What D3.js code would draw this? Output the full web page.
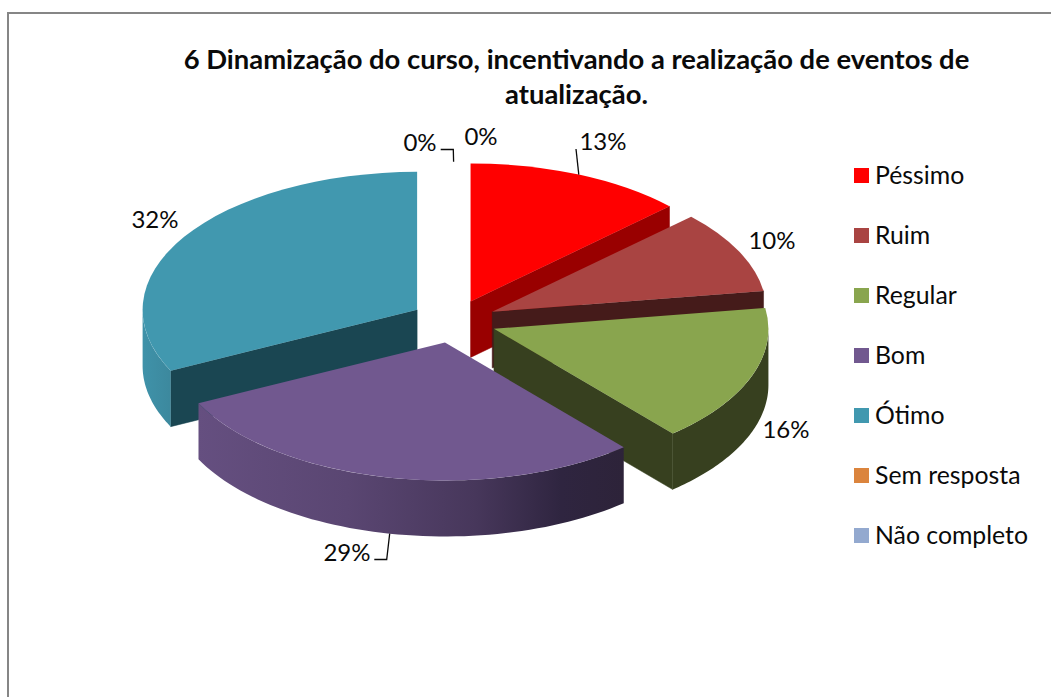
<!DOCTYPE html>
<html><head><meta charset="utf-8">
<script src="https://cdn.jsdelivr.net/npm/d3@7"></script>
<style>html,body{margin:0;padding:0;background:#fff}svg{display:block}text{font-family:Lato,"Open Sans",sans-serif;fill:#0a0a0a}</style>
</head><body><div id="c"></div>
<script>
const categories = ["Péssimo","Ruim","Regular","Bom","Ótimo","Sem resposta","Não completo"];
const counts = [4,3,5,9,10,0,0];
const topColors = ["#FF0000","#A94442","#89A54E","#71588F","#4198AF","#DB843D","#93A9CF"];
const wallColors = ["#990000","#451B1A","#37401F","#2D2339","#1A4652","#DB843D","#93A9CF"];
const titleLines = ["6 Dinamização do curso, incentivando a realização de eventos de","atualização."];

const W=1051,H=697;
const svg=d3.select("#c").append("svg").attr("width",W).attr("height",H);
const defs=svg.append("defs");

// frame
svg.append("path").attr("d",`M8,${H}V13H${W}`).attr("fill","none").attr("stroke","#868686").attr("stroke-width",2);

// title
svg.append("g").selectAll("text").data(titleLines).join("text")
  .attr("x",576.5).attr("y",(d,i)=>69+i*35).attr("text-anchor","middle")
  .attr("font-size",27.4).attr("font-weight",700).text(d=>d);

// pie geometry
const cx=453.6,cy=321.3,rx=274.5,ry=138,depth=56,explode=43;
const pieGen=d3.pie().sort(null).value(d=>d);
const arcs=pieGen(counts);
const arcGen=d3.arc().innerRadius(0).outerRadius(rx);
const lineGen=d3.line();
const rim=(o,a,dz=0)=>[o[0]+rx*Math.sin(a),o[1]-ry*Math.cos(a)+dz];
const origin=a=>{const m=(a.startAngle+a.endAngle)/2;return [cx+explode*Math.sin(m),cy-explode*ry/rx*Math.cos(m)];};

// purple and blue outer-wall shading
const grad=(id,x1,x2,stops)=>{const g=defs.append("linearGradient").attr("id",id).attr("gradientUnits","userSpaceOnUse")
  .attr("x1",x1).attr("x2",x2).attr("y1",0).attr("y2",0);
  stops.forEach(s=>g.append("stop").attr("offset",s[0]).attr("stop-color",s[1]));};
grad("wall3",198,625,[[0,"#654F80"],[.35,"#5A4672"],[.65,"#47375B"],[.85,"#2F2540"],[1,"#2D2339"]]);
grad("wall4",143,172,[[0,"#3F92A9"],[1,"#3C889D"]]);
const outerFill=i=>i===3?"url(#wall3)":i===4?"url(#wall4)":wallColors[i];

const pieG=svg.append("g");
const order=[4,0,1,2,3];
order.forEach(i=>{
  const a=arcs[i];const o=origin(a);const g=pieG.append("g");
  const radial=ang=>{
    g.append("path").attr("fill",wallColors[i]).attr("stroke",wallColors[i]).attr("stroke-width",.5)
     .attr("d",lineGen([o,rim(o,ang),rim(o,ang,depth),[o[0],o[1]+depth]])+"Z");
  };
  if(Math.sin(a.startAngle)<-1e-6) radial(a.startAngle);
  if(Math.sin(a.endAngle)>1e-6) radial(a.endAngle);
  const s=Math.max(a.startAngle,Math.PI/2),e=Math.min(a.endAngle,Math.PI*1.5);
  if(e>s){
    const angs=d3.range(0,61).map(k=>s+(e-s)*k/60);
    const pts=angs.map(t=>rim(o,t)).concat(angs.slice().reverse().map(t=>rim(o,t,depth)));
    g.append("path").attr("fill",outerFill(i)).attr("d",lineGen(pts)+"Z");
  }
  g.append("path").attr("fill",topColors[i])
   .attr("transform",`translate(${o[0]},${o[1]}) scale(1,${ry/rx})`)
   .attr("d",arcGen(a));
});

// data labels
const total=d3.sum(counts);
const labelPos=[[603,142],[772,241],[786,430],[347,553],[155,220],[481,137],[420,143]];
const leaderVia=[[576,149],null,null,[386.7,559.5],null,null,[453.3,149.5]];
const leaderEnd=[[576,149],null,null,[374.3,559.5],null,null,[440.7,149.5]];
const lab=svg.append("g");
arcs.forEach((a,i)=>{
  lab.append("text").attr("x",labelPos[i][0]).attr("y",labelPos[i][1]).attr("dy","0.35em").attr("text-anchor","middle")
    .attr("font-size",24).text(d3.format(".0%")(a.value/total));
  if(leaderVia[i]){
    const p=rim(origin(a),(a.startAngle+a.endAngle)/2,i===3?depth:0);
    lab.append("path").attr("fill","none").attr("stroke","#0a0a0a").attr("stroke-width",1.3)
      .attr("d",lineGen([leaderEnd[i],leaderVia[i],p]));
  }
});

// legend
const leg=svg.append("g").selectAll("g").data(categories).join("g")
  .attr("transform",(d,i)=>`translate(854,${168+i*60})`);
leg.append("rect").attr("width",15).attr("height",15).attr("fill",(d,i)=>topColors[i]);
leg.append("text").attr("x",21).attr("y",16).attr("font-size",24.8).text(d=>d);
</script></body></html>
